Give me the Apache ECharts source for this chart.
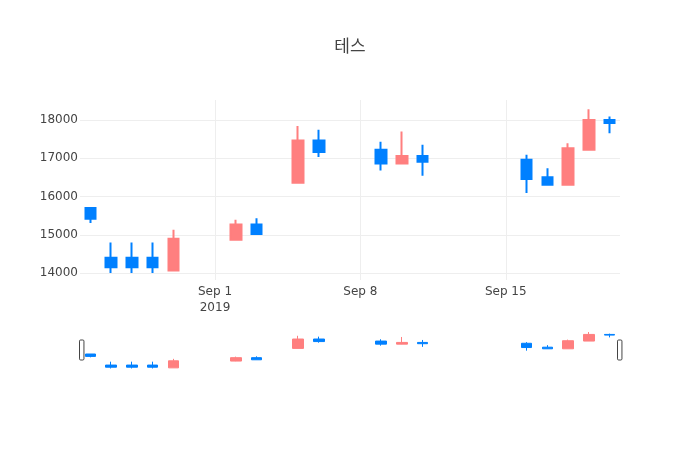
<!DOCTYPE html>
<html>
<head>
<meta charset="utf-8">
<script src="https://cdn.jsdelivr.net/npm/echarts@6/dist/echarts.min.js"></script>
<style>html,body{margin:0;padding:0;background:#fff}#chart{width:700px;height:450px}</style>
</head>
<body>
<div id="chart"></div>
<script>
const titleText = '테스';
const dates = ['2019-08-26','2019-08-27','2019-08-28','2019-08-29','2019-08-30','2019-09-02','2019-09-03','2019-09-05','2019-09-06','2019-09-09','2019-09-10','2019-09-11','2019-09-16','2019-09-17','2019-09-18','2019-09-19','2019-09-20'];
const openVals  = [15700,14400,14400,14400,14070,14870,15270,16360,17460,17220,16860,17060,16960,16500,16310,17220,18000];
const closeVals = [15420,14150,14150,14150,14900,15270,15020,17460,17160,16860,17060,16910,16460,16310,17260,18000,17920];
const lowVals   = [15310,14000,14000,14000,14070,14850,15020,16360,17030,16680,16850,16540,16090,16300,16310,17220,17650];
const highVals  = [15700,14800,14800,14800,15130,15390,15430,17840,17740,17430,17700,17350,17090,16740,17390,18280,18090];
const xTickDates = ['2019-09-01','2019-09-08','2019-09-15'];
const xTickLabels = ['Sep 1\n2019','Sep 8','Sep 15'];
const yTicks = [14000,15000,16000,17000,18000];
const xRange = ['2019-08-26','2019-09-20'];
const yRange = [13820,18520];

const t = s => { const p = s.split('-').map(Number); return new Date(p[0], p[1]-1, p[2]).getTime(); };
const HALF_DAY = 12*3600*1000;
const xMin = t(xRange[0]) - HALF_DAY, xMax = t(xRange[1]) + HALF_DAY;
const ohlc = dates.map((d,i) => [t(d), openVals[i], closeVals[i], lowVals[i], highVals[i]]);
const tickTimes = xTickDates.map(t);

const UP = '#ff7f7f', DOWN = '#0080ff';
const FONT = "'DejaVu Sans', 'Noto Sans CJK KR', sans-serif";
const chart = echarts.init(document.getElementById('chart'), null, {renderer:'canvas'});
chart.setOption({
  animation: false,
  backgroundColor: '#fff',
  textStyle: {fontFamily: FONT},
  title: {text: titleText, left: 'center', top: 32,
    textStyle: {fontFamily: "'Noto Sans CJK KR', sans-serif", fontSize: 17, fontWeight: 'normal', color: '#444'}},
  grid: [
    {left: 80, right: 80, top: 100, height: 180, containLabel: false},
    {left: 80, right: 80, top: 330, height: 40, containLabel: false}
  ],
  xAxis: [
    {type: 'value', gridIndex: 0, min: xMin, max: xMax, scale: true,
      axisLine: {show: false}, axisTick: {show: false, customValues: tickTimes},
      splitLine: {show: true, lineStyle: {color: '#eee', width: 1}},
      axisLabel: {customValues: tickTimes, color: '#444', fontSize: 12, fontFamily: FONT, lineHeight: 16, margin: 4,
        align: 'center', hideOverlap: false,
        formatter: v => { const i = tickTimes.indexOf(v); return i >= 0 ? xTickLabels[i] : ''; }}},
    {type: 'value', gridIndex: 1, min: xMin, max: xMax, scale: true, show: false}
  ],
  yAxis: [
    {type: 'value', gridIndex: 0, min: yRange[0], max: yRange[1], scale: true,
      axisLine: {show: false}, axisTick: {show: false, customValues: yTicks},
      splitLine: {show: true, lineStyle: {color: '#eee', width: 1}},
      axisLabel: {customValues: yTicks, color: '#444', fontSize: 12, fontFamily: FONT, margin: 2, formatter: v => String(v)}},
    {type: 'value', gridIndex: 1, min: yRange[0], max: yRange[1], scale: true, show: false}
  ],
  dataZoom: [{
    type: 'slider', xAxisIndex: 0, filterMode: 'none', start: 0, end: 100,
    left: 80, right: 80, top: 330, height: 40,
    backgroundColor: 'transparent', borderColor: 'transparent', fillerColor: 'transparent',
    showDetail: false, showDataShadow: false, brushSelect: false, moveHandleSize: 0,
    moveHandleStyle: {opacity: 0},
    handleIcon: 'path://M1,0h2a1,1,0,0,1,1,1v16a1,1,0,0,1,-1,1h-2a1,1,0,0,1,-1,-1v-16a1,1,0,0,1,1,-1z',
    handleSize: '50%',
    handleStyle: {color: '#fff', borderColor: '#444', borderWidth: 1},
    emphasis: {handleStyle: {color: '#fff', borderColor: '#444', borderWidth: 1}, moveHandleStyle: {opacity: 0}},
    dataBackground: {lineStyle: {opacity: 0}, areaStyle: {opacity: 0}},
    selectedDataBackground: {lineStyle: {opacity: 0}, areaStyle: {opacity: 0}}
  }],
  series: [
    {type: 'candlestick', xAxisIndex: 0, yAxisIndex: 0, data: ohlc, barWidth: 11,
      itemStyle: {color: UP, color0: DOWN, borderColor: UP, borderColor0: DOWN, borderWidth: 2},
      emphasis: {disabled: true}},
    {type: 'candlestick', xAxisIndex: 1, yAxisIndex: 1, data: ohlc, barWidth: 11,
      itemStyle: {color: UP, color0: DOWN, borderColor: UP, borderColor0: DOWN, borderWidth: 1},
      emphasis: {disabled: true}}
  ]
});
</script>
</body>
</html>
